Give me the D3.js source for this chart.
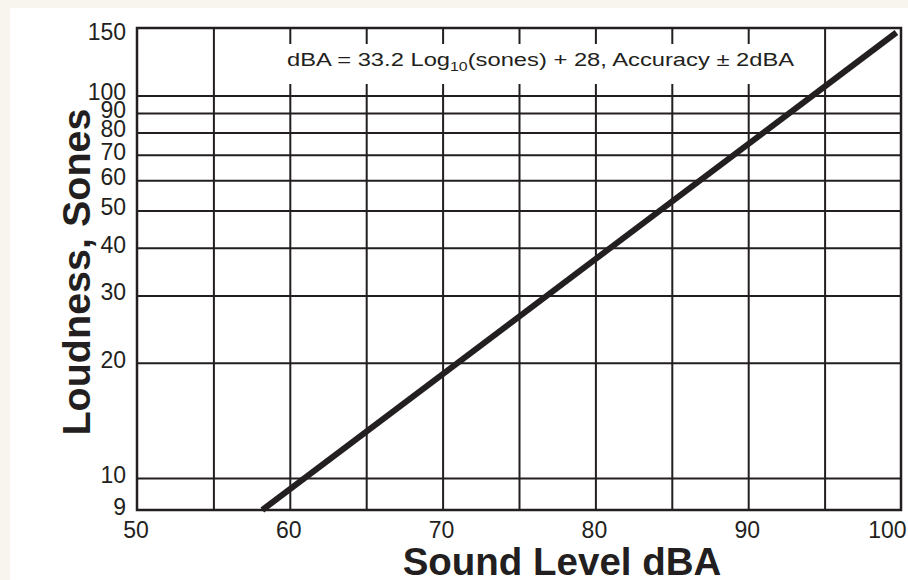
<!DOCTYPE html>
<html>
<head>
<meta charset="utf-8">
<script src="https://cdn.jsdelivr.net/npm/d3@7"></script>
<style>
  html, body { margin: 0; padding: 0; background: #f8f5ee; }
  svg { display: block; }
  text { font-family: "Liberation Sans", Arial, sans-serif; fill: #231f20; }
</style>
</head>
<body>
<script>
// ---- data ----
const xDomain = [50, 100];
const xTickValues = [50, 60, 70, 80, 90, 100];
const xGridValues = [55, 60, 65, 70, 75, 80, 85, 90, 95];
const yDomain = [9, 10, 150];           // axis runs from 9 (bottom) to 150 (top)
const yTickValues = [9, 10, 20, 30, 40, 50, 60, 70, 80, 90, 100, 150];
const yGridValues = [10, 20, 30, 40, 50, 60, 70, 80, 90, 100];
const lineDBA = [58.2, 99.7];           // sound level, dBA
const lineSones = [9, 146];             // loudness, sones
const xTitle = "Sound Level dBA";
const yTitle = "Loudness, Sones";

// ---- layout ----
const W = 908, H = 580;
const L = 137, R = 901, T = 28, B = 510;
const ink = "#231f20";

const svg = d3.select("body").append("svg").attr("width", W).attr("height", H);
svg.append("rect").attr("x", 10).attr("y", 8).attr("width", W - 10).attr("height", H - 8).attr("fill", "#ffffff");

const x = d3.scaleLinear().domain(xDomain).range([L, R]);
const y = d3.scaleLog().domain(yDomain).range([B, 478, T]);

// vertical grid
const gx = svg.append("g").attr("transform", `translate(0,${B})`)
  .call(d3.axisBottom(x).tickValues(xGridValues).tickSize(-(B - T)).tickFormat(""));
gx.select(".domain").remove();
gx.selectAll(".tick line").attr("stroke", ink).attr("stroke-width", 2);

// horizontal grid
const gy = svg.append("g").attr("transform", `translate(${L},0)`)
  .call(d3.axisLeft(y).tickValues(yGridValues).tickSize(-(R - L)).tickFormat(""));
gy.select(".domain").remove();
gy.selectAll(".tick line").attr("stroke", ink).attr("stroke-width", 2);

// annotation box (white background interrupting grid)
svg.append("rect").attr("x", 282).attr("y", 44).attr("width", 522).attr("height", 40).attr("fill", "#ffffff");
const ann = svg.append("text").attr("transform", "translate(287,66) scale(1.32,1)")
  .style("font-size", "18px");
ann.append("tspan").text("dBA = 33.2 Log");
ann.append("tspan").attr("dy", 5).style("font-size", "12px").text("10");
ann.append("tspan").attr("dy", -5).text("(sones) + 28, Accuracy \u00B1 2dBA");

// frame
svg.append("rect").attr("x", L).attr("y", T).attr("width", R - L).attr("height", B - T)
  .attr("fill", "none").attr("stroke", ink).attr("stroke-width", 2.5);

// data line
const pts = lineDBA.map((d, i) => [d, lineSones[i]]);
svg.append("path").datum(pts)
  .attr("d", d3.line().x(d => x(d[0])).y(d => y(d[1])))
  .attr("fill", "none").attr("stroke", ink).attr("stroke-width", 6).attr("stroke-linecap", "butt");

// x tick labels
const ax = svg.append("g").attr("transform", `translate(-1.5,${B})`)
  .call(d3.axisBottom(x).tickValues(xTickValues).tickSize(0).tickPadding(12).tickFormat(d3.format("d")));
ax.select(".domain").remove();
ax.selectAll("text").style("font-size", "23px").style("font-family", "Liberation Sans, Arial, sans-serif").attr("fill", ink);
ax.selectAll(".tick").filter(d => d === xDomain[1]).select("text")
  .attr("text-anchor", "end").attr("dx", 6.5);

// y tick labels
const ay = svg.append("g").attr("transform", `translate(126,-3)`)
  .call(d3.axisLeft(y).tickValues(yTickValues).tickSize(0).tickPadding(0).tickFormat(d3.format("d")));
ay.select(".domain").remove();
ay.selectAll("text").style("font-size", "23px").style("font-family", "Liberation Sans, Arial, sans-serif").attr("fill", ink);
ay.selectAll(".tick").filter(d => d === yDomain[yDomain.length - 1]).select("text")
  .attr("dy", "0.62em");

// axis titles
svg.append("text").attr("x", 562).attr("y", 575).attr("text-anchor", "middle")
  .style("font-size", "38.5px").style("font-weight", "bold").text(xTitle);
svg.append("text").attr("transform", "translate(90,272) rotate(-90)").attr("text-anchor", "middle")
  .style("font-size", "39.5px").style("font-weight", "bold").text(yTitle);
</script>
</body>
</html>
